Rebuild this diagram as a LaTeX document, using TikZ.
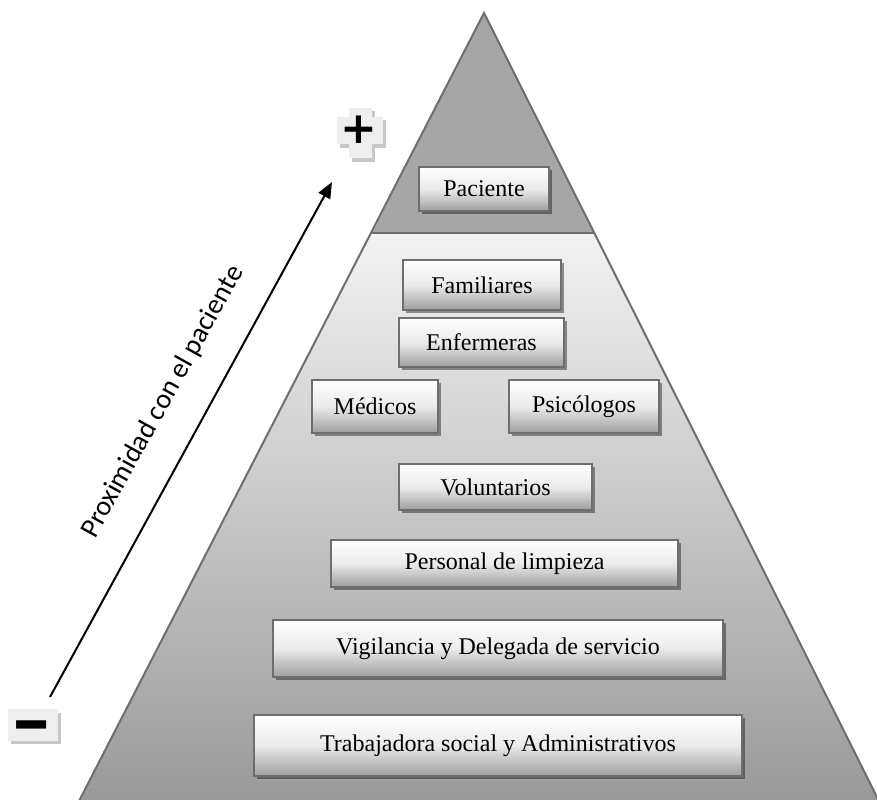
\documentclass[tikz,border=0pt]{standalone}
\usepackage{fontspec}
\setmainfont{Liberation Serif}
\newfontfamily\labelfont{Carlito}
\newfontfamily\signfont{DejaVu Sans}
\usetikzlibrary{arrows.meta, shadows, backgrounds}
\definecolor{pyrtop}{HTML}{A6A6A6}
\definecolor{pyredge}{HTML}{6E6E6E}
\definecolor{signbg}{HTML}{EEEEEE}
\definecolor{signshade}{HTML}{C8C8C8}

\tikzset{
  rolebox/.style={rectangle, draw=pyredge, line width=1pt, inner sep=0pt,
    top color=white, bottom color=black!38, middle color=black!8,
    font=\fontsize{12}{14}\selectfont,
    drop shadow={shadow xshift=1.5pt, shadow yshift=-1.5pt, opacity=0.4, fill=black}},
  signtext/.style={inner sep=0pt, font=\signfont\bfseries},
}

\begin{document}
\begin{tikzpicture}[x=0.5pt, y=-0.5pt]
\useasboundingbox (0,0) rectangle (877,799);
\clip (0,0) rectangle (877,799);

% pyramid outline
\coordinate (apex) at (484,13);
\coordinate (cutL) at (372,233);
\coordinate (cutR) at (595,233);
\coordinate (baseL) at (78,803);
\coordinate (baseR) at (880,803);

\fill[pyrtop] (apex) -- (cutL) -- (cutR) -- cycle;
\shade[top color=black!5, bottom color=black!40] (cutL) -- (baseL) -- (baseR) -- (cutR) -- cycle;
\draw[pyredge, line width=1pt] (baseL) -- (apex) -- (baseR);
\draw[pyredge, line width=1pt] (cutL) -- (cutR);

% levels
\node[rolebox, minimum width=65pt, minimum height=22pt] (paciente) at (484,189) {Paciente};
\node[rolebox, minimum width=79pt, minimum height=25pt] (familiares) at (482,285) {Familiares};
\node[rolebox, minimum width=82.5pt, minimum height=24.5pt] (enfermeras) at (481.5,342.5) {Enfermeras};
\node[rolebox, minimum width=63pt, minimum height=26.5pt] (medicos) at (375,406.5) {Médicos};
\node[rolebox, minimum width=75pt, minimum height=26.5pt] (psicologos) at (584,406.5) {Psicólogos};
\node[rolebox, minimum width=96.5pt, minimum height=23pt] (voluntarios) at (495.5,487) {Voluntarios};
\node[rolebox, minimum width=173.5pt, minimum height=23.5pt] (limpieza) at (504.5,563.5) {Personal de limpieza};
\node[rolebox, minimum width=225pt, minimum height=28.5pt] (vigilancia) at (498,648.5) {Vigilancia y Delegada de servicio};
\node[rolebox, minimum width=244pt, minimum height=30.5pt] (trabajadora) at (498,745.5) {Trabajadora social y Administrativos};

% proximity axis
\coordinate (low) at (50,697);
\coordinate (high) at (332,182);
\draw[-{Triangle[length=8pt, width=6.5pt]}, line width=1pt] (low) -- (high);
\node[rotate=61, font=\labelfont\fontsize{14}{16}\selectfont] (proxlabel) at (163,402) {Proximidad con el paciente};

\node[signtext, font=\signfont\bfseries\fontsize{22}{22}\selectfont] (plus) at (359,130) {+};
\node[signtext, font=\signfont\bfseries\fontsize{24}{24}\selectfont] (minus) at (31.5,734) {\scalebox{1}[1.5]{−}};

\begin{scope}[on background layer]
  \fill[signshade] ([shift={(-19,-10)}]plus.center) rectangle ([shift={(27,18)}]plus.center);
  \fill[signshade] ([shift={(-7,-19)}]plus.center) rectangle ([shift={(16,32)}]plus.center);
  \fill[signbg] ([shift={(-22,-13)}]plus.center) rectangle ([shift={(24,14)}]plus.center);
  \fill[signbg] ([shift={(-10,-22)}]plus.center) rectangle ([shift={(13,28)}]plus.center);
  \fill[signshade] ([shift={(-21,-21.5)}]minus.center) rectangle ([shift={(29,9.5)}]minus.center);
  \fill[signbg] ([shift={(-24,-25.5)}]minus.center) rectangle ([shift={(26,6.5)}]minus.center);
\end{scope}
\end{tikzpicture}
\end{document}
